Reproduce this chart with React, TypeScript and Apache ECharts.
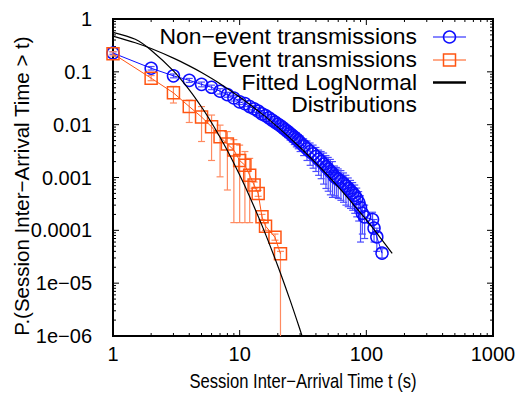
import React, { useEffect, useRef } from "react";
import * as echarts from "echarts";

// Non-event transmissions (blue circles)
const nonEventT = [1, 2, 3, 4, 5, 6, 7, 8, 9, 10, 11, 12, 13, 14, 15, 16, 17, 18, 19, 20, 21, 22, 23, 24, 25, 26, 27, 28, 29, 30, 32, 34, 36, 38, 40, 42, 44, 46, 48, 50, 52, 54, 56, 58, 60, 63, 66, 69, 72, 75, 78, 81, 84, 87, 90, 93, 97, 112, 115, 121, 133];
const nonEventP = [0.227, 0.117, 0.084, 0.069, 0.058, 0.051, 0.043, 0.037, 0.032, 0.027, 0.025, 0.022, 0.02, 0.018, 0.016, 0.0148, 0.0135, 0.0122, 0.0112, 0.0103, 0.0095, 0.0087, 0.008, 0.0074, 0.0068, 0.0063, 0.0058, 0.0054, 0.005, 0.0046, 0.004, 0.0035, 0.0031, 0.0028, 0.0025, 0.0022, 0.002, 0.0018, 0.0016, 0.00145, 0.0013, 0.0012, 0.00105, 0.00098, 0.00092, 0.00085, 0.00077, 0.00069, 0.00062, 0.00056, 0.00051, 0.00046, 0.0004, 0.00034, 0.00027, 0.00021, 0.00018, 0.00016, 0.00011, 0.000075, 0.000037];
const nonEventLow = [0.215, 0.108, 0.077, 0.063, 0.052, 0.046, 0.038, 0.033, 0.028, 0.024, 0.022, 0.019, 0.017, 0.015, 0.0135, 0.0124, 0.0112, 0.01, 0.0091, 0.0083, 0.0076, 0.0069, 0.0062, 0.0057, 0.0051, 0.0047, 0.0042, 0.0038, 0.0035, 0.0031, 0.0026, 0.0021, 0.0017, 0.0015, 0.0013, 0.0011, 0.00095, 0.00075, 0.00062, 0.00055, 0.00047, 0.00042, 0.00045, 0.00042, 0.0004, 0.00037, 0.00034, 0.0003, 0.00028, 0.00026, 0.00024, 0.00021, 0.00018, 0.00015, 0.00006, 0.000085, 0.00007, 0.00009, 0.00006, 0.00004, 0.00003];
const nonEventHigh = [0.24, 0.126, 0.091, 0.075, 0.064, 0.056, 0.048, 0.041, 0.036, 0.03, 0.028, 0.025, 0.023, 0.021, 0.0185, 0.017, 0.0158, 0.0144, 0.0133, 0.0123, 0.0114, 0.0105, 0.0098, 0.0091, 0.0085, 0.0079, 0.0074, 0.007, 0.0065, 0.0061, 0.0054, 0.0049, 0.0045, 0.0041, 0.0037, 0.0033, 0.0031, 0.0029, 0.0026, 0.0024, 0.0022, 0.002, 0.00165, 0.00155, 0.00145, 0.00135, 0.00122, 0.0011, 0.00098, 0.00088, 0.0008, 0.00072, 0.00063, 0.00054, 0.00045, 0.00034, 0.0003, 0.00022, 0.00016, 0.00011, 0.000045];

// Event transmissions (orange squares)
const eventT = [1, 2, 3, 4, 5, 6, 7, 8, 9, 10, 11, 12, 13, 14, 15, 16, 19, 21];
const eventP = [0.22, 0.076, 0.04, 0.022, 0.014, 0.0091, 0.0059, 0.0043, 0.0033, 0.0021, 0.0017, 0.0011, 0.00072, 0.0005, 0.00018, 0.00012, 0.000074, 0.000036];
const eventLow = [0.2, 0.068, 0.0257, 0.011, 0.0048, 0.0021, 0.00103, 0.00058, 0.00014, 0.00014, 0.00014, 0.00014, 0.00062, 0.00044, 0.00016, 0.0001, 0.000065, 0];
const eventHigh = [0.24, 0.085, 0.053, 0.029, 0.022, 0.0152, 0.0098, 0.0074, 0.0052, 0.0041, 0.0031, 0.0023, 0.00082, 0.00057, 0.0002, 0.00014, 0.000085, 0.00004];

// Fitted LogNormal curves
const fitNonEventT = [1, 1.5, 2, 3, 4, 5, 7, 10, 15, 20, 30, 40, 50, 70, 100, 130, 160];
const fitNonEventP = [0.4755, 0.3546, 0.276, 0.182, 0.1297, 0.097, 0.0596, 0.0334, 0.016, 0.00899, 0.0037, 0.00187, 0.00107, 0.000436, 0.000157, 0.0000706, 0.0000367];
const fitEventT = [1, 1.5, 2, 3, 4, 5, 6, 7, 8, 10, 12, 15, 20, 25, 30, 32];
const fitEventP = [0.56, 0.4125, 0.257, 0.1042, 0.0457, 0.0216, 0.0109, 0.00579, 0.00323, 0.00111, 0.000434, 0.000124, 0.0000212, 0.00000478, 0.0000013, 0.0000008];

// Axis ticks and labels
const xTickLabels = ["1", "10", "100", "1000"];
const yTickLabels = ["1e\u221206", "1e\u221205", "0.0001", "0.001", "0.01", "0.1", "1"];
const xMajorTicks = [1, 10, 100, 1000];
const xMinorTicks = [2, 3, 4, 5, 6, 7, 8, 9, 20, 30, 40, 50, 60, 70, 80, 90, 200, 300, 400, 500, 600, 700, 800, 900];
const yMajorTicks = [1e-6, 1e-5, 1e-4, 1e-3, 1e-2, 1e-1, 1];
const yMinorTicks = [
  2e-6, 3e-6, 4e-6, 5e-6, 6e-6, 7e-6, 8e-6, 9e-6,
  2e-5, 3e-5, 4e-5, 5e-5, 6e-5, 7e-5, 8e-5, 9e-5,
  2e-4, 3e-4, 4e-4, 5e-4, 6e-4, 7e-4, 8e-4, 9e-4,
  2e-3, 3e-3, 4e-3, 5e-3, 6e-3, 7e-3, 8e-3, 9e-3,
  2e-2, 3e-2, 4e-2, 5e-2, 6e-2, 7e-2, 8e-2, 9e-2,
  0.2, 0.3, 0.4, 0.5, 0.6, 0.7, 0.8, 0.9,
];

const legendLabels = ["Non\u2212event transmissions", "Event transmissions", "Fitted LogNormal", "Distributions"];
const xTitle = "Session Inter\u2212Arrival Time t (s)";
const yTitle = "P.(Session Inter\u2212Arrival Time > t)";

const FONT = "'Liberation Sans', Arial, Helvetica, sans-serif";
const BLUE = "#0c0cff";
const BLUE_ERR = "#4c4cff";
const ORANGE = "#ff5512";
const ORANGE_ERR = "#ff8a60";

function errRender(color: string) {
  return (params: any, api: any) => {
    const cs = params.coordSys;
    const t = api.value(0);
    const lo = api.value(1);
    const hi = api.value(2);
    const bottom = cs.y + cs.height;
    const top = api.coord([t, hi]);
    let yLo: number;
    let clipped = false;
    if (!(lo > 0)) {
      yLo = bottom;
      clipped = true;
    } else {
      yLo = api.coord([t, lo])[1];
      if (yLo > bottom) {
        yLo = bottom;
        clipped = true;
      }
    }
    const x = top[0];
    const w = 3.5;
    const style = { stroke: color, lineWidth: 1.2, fill: null };
    const children: any[] = [
      { type: "line", shape: { x1: x, y1: top[1], x2: x, y2: yLo }, style },
      { type: "line", shape: { x1: x - w, y1: top[1], x2: x + w, y2: top[1] }, style },
    ];
    if (!clipped) children.push({ type: "line", shape: { x1: x - w, y1: yLo, x2: x + w, y2: yLo }, style });
    return { type: "group", children };
  };
}

function xTickRender(len: number) {
  return (params: any, api: any) => {
    const cs = params.coordSys;
    const x = api.coord([api.value(0), 0.001])[0];
    const style = { stroke: "#000", lineWidth: 1 };
    return {
      type: "group",
      children: [
        { type: "line", shape: { x1: x, y1: cs.y + cs.height, x2: x, y2: cs.y + cs.height - len }, style },
        { type: "line", shape: { x1: x, y1: cs.y, x2: x, y2: cs.y + len }, style },
      ],
    };
  };
}

function yTickRender(len: number) {
  return (params: any, api: any) => {
    const cs = params.coordSys;
    const y = api.coord([10, api.value(1)])[1];
    const style = { stroke: "#000", lineWidth: 1 };
    return {
      type: "group",
      children: [
        { type: "line", shape: { x1: cs.x, y1: y, x2: cs.x + len, y2: y }, style },
        { type: "line", shape: { x1: cs.x + cs.width, y1: y, x2: cs.x + cs.width - len, y2: y }, style },
      ],
    };
  };
}

export default function App() {
  const ref = useRef<HTMLDivElement>(null);
  useEffect(() => {
    document.body.style.margin = "0";
    if (!ref.current) return;
    const chart = echarts.init(ref.current, undefined, { renderer: "svg" });
    const L = 113, T = 19, W = 380, H = 317;
    const legX = 417;
    const legRows = [37, 60, 82.5, 105];
    const option: any = {
      animation: false,
      backgroundColor: "#fff",
      textStyle: { fontFamily: FONT },
      grid: { left: L, top: T, width: W, height: H, show: true, borderColor: "#000", borderWidth: 2, backgroundColor: "transparent" },
      xAxis: {
        type: "log",
        logBase: 10,
        min: 1,
        max: 1000,
        axisLine: { show: false },
        axisTick: { show: false },
        splitLine: { show: false },
        axisLabel: {
          margin: 8,
          fontSize: 20,
          color: "#000",
          fontFamily: FONT,
          formatter: (v: number) => xTickLabels[Math.round(Math.log10(v))] ?? "",
        },
      },
      yAxis: {
        type: "log",
        logBase: 10,
        min: 1e-6,
        max: 1,
        axisLine: { show: false },
        axisTick: { show: false },
        splitLine: { show: false },
        axisLabel: {
          margin: 21,
          fontSize: 20,
          color: "#000",
          fontFamily: FONT,
          formatter: (v: number) => yTickLabels[Math.round(Math.log10(v)) + 6] ?? "",
        },
      },
      series: [
        { type: "custom", renderItem: xTickRender(6), data: xMajorTicks.map((v) => [v, 0.001]), encode: { x: 0, y: 1 }, silent: true, z: 1 },
        { type: "custom", renderItem: xTickRender(3), data: xMinorTicks.map((v) => [v, 0.001]), encode: { x: 0, y: 1 }, silent: true, z: 1 },
        { type: "custom", renderItem: yTickRender(6), data: yMajorTicks.map((v) => [10, v]), encode: { x: 0, y: 1 }, silent: true, z: 1 },
        { type: "custom", renderItem: yTickRender(3), data: yMinorTicks.map((v) => [10, v]), encode: { x: 0, y: 1 }, silent: true, z: 1 },
        {
          type: "custom",
          renderItem: errRender(BLUE_ERR),
          data: nonEventT.map((t, i) => [t, nonEventLow[i], nonEventHigh[i]]),
          encode: { x: 0, y: 2 },
          silent: true,
          z: 2,
        },
        {
          type: "custom",
          renderItem: errRender(ORANGE_ERR),
          data: eventT.map((t, i) => [t, eventLow[i], eventHigh[i]]),
          encode: { x: 0, y: 2 },
          silent: true,
          z: 2,
        },
        {
          name: legendLabels[0],
          type: "line",
          data: nonEventT.map((t, i) => [t, nonEventP[i]]),
          symbol: "circle",
          symbolSize: 12,
          itemStyle: { color: "rgba(0,0,0,0)", borderColor: BLUE, borderWidth: 1.5 },
          lineStyle: { color: BLUE, width: 1 },
          z: 3,
        },
        {
          name: legendLabels[1],
          type: "line",
          data: eventT.map((t, i) => [t, eventP[i]]),
          symbol: "rect",
          symbolSize: 12,
          itemStyle: { color: "rgba(0,0,0,0)", borderColor: ORANGE, borderWidth: 1.5 },
          lineStyle: { color: ORANGE, width: 1 },
          z: 3,
        },
        {
          name: legendLabels[2],
          type: "line",
          data: fitNonEventT.map((t, i) => [t, fitNonEventP[i]]),
          symbol: "none",
          smooth: 0.3,
          lineStyle: { color: "#000", width: 1.2 },
          z: 4,
        },
        {
          name: legendLabels[2],
          type: "line",
          data: fitEventT.map((t, i) => [t, fitEventP[i]]),
          symbol: "none",
          smooth: 0.3,
          lineStyle: { color: "#000", width: 1.2 },
          z: 4,
        },
      ],
      graphic: [
        ...legendLabels.map((s, i) => ({
          type: "text",
          x: legX,
          y: legRows[i],
          z: 10,
          scaleX: 1.04,
          style: { text: s, fill: "#000", font: `22px ${FONT}`, lineHeight: 21, textAlign: "right", textVerticalAlign: "middle" },
        })),
        { type: "line", z: 10, shape: { x1: 433, y1: legRows[0], x2: 466, y2: legRows[0] }, style: { stroke: BLUE, lineWidth: 1 } },
        { type: "circle", z: 10, shape: { cx: 449.5, cy: legRows[0], r: 6 }, style: { stroke: BLUE, fill: "none", lineWidth: 1.5 } },
        { type: "line", z: 10, shape: { x1: 433, y1: legRows[1], x2: 466, y2: legRows[1] }, style: { stroke: ORANGE, lineWidth: 1 } },
        { type: "rect", z: 10, shape: { x: 443.5, y: legRows[1] - 6, width: 12, height: 12 }, style: { stroke: ORANGE, fill: "none", lineWidth: 1.5 } },
        { type: "line", z: 10, shape: { x1: 433, y1: legRows[2], x2: 466, y2: legRows[2] }, style: { stroke: "#000", lineWidth: 2.5 } },
        {
          type: "text",
          x: 303,
          y: 381,
          scaleX: 0.83,
          style: { text: xTitle, fill: "#000", font: `20px ${FONT}`, textAlign: "center", textVerticalAlign: "middle" },
        },
        {
          type: "text",
          x: 21,
          y: 186,
          rotation: Math.PI / 2,
          style: { text: yTitle, fill: "#000", font: `20.5px ${FONT}`, textAlign: "center", textVerticalAlign: "middle" },
        },
      ],
    };
    chart.setOption(option);
    return () => chart.dispose();
  }, []);
  return <div ref={ref} style={{ position: "fixed", left: 0, top: 0, width: 519, height: 396 }} />;
}
